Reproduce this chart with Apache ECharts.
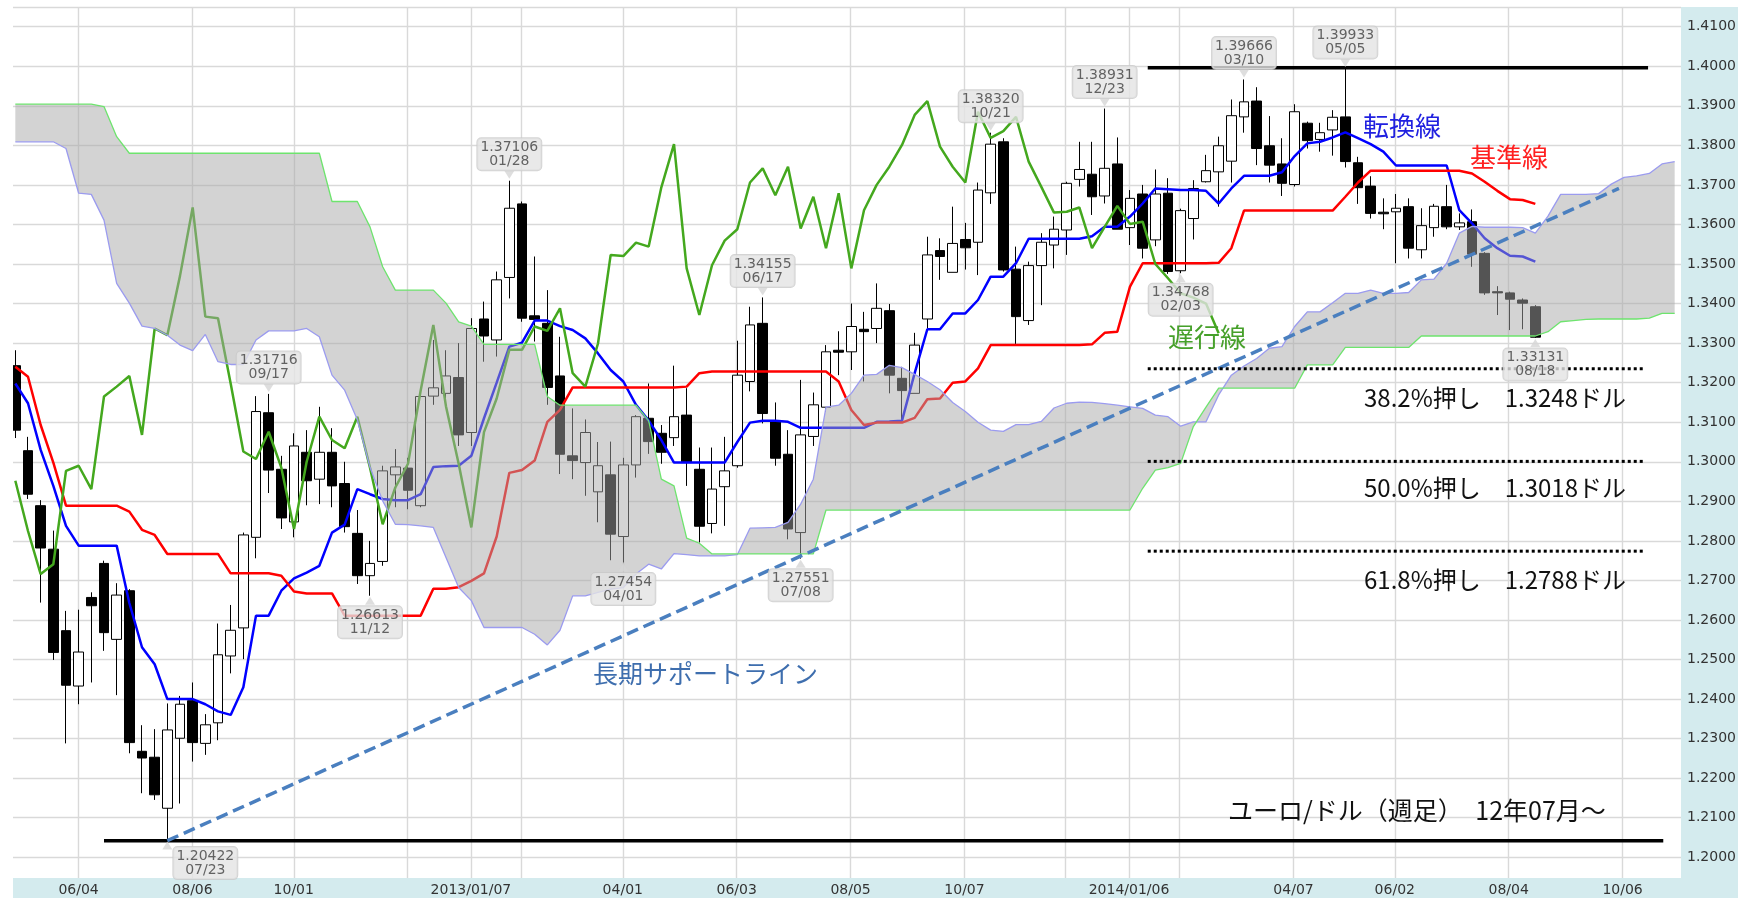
<!DOCTYPE html>
<html>
<head>
<meta charset="utf-8">
<title>ユーロ/ドル 週足 一目均衡表</title>
<script src="https://cdn.jsdelivr.net/npm/echarts/dist/echarts.min.js"></script>
<style>
  html, body { margin: 0; padding: 0; background: #fff; }
  #chart { width: 1749px; height: 898px; }
</style>
</head>
<body>
<div id="chart"></div>
<script>
// 週足: 最初の足は 2012/04/30 の週
const firstWeek = Date.UTC(2012, 3, 30)
const weekCount = 132

const openP = [
  1.3243, 1.3028, 1.2889, 1.2779, 1.2573, 1.2433, 1.2657, 1.2743, 1.2551, 1.2674,
  1.2268, 1.2253, 1.2124, 1.2301, 1.2396, 1.2288, 1.2340, 1.2509, 1.2580, 1.2809,
  1.3124, 1.2981, 1.2848, 1.3024, 1.2956, 1.3024, 1.2945, 1.2819, 1.2712, 1.2748,
  1.2967, 1.2984, 1.2889, 1.3166, 1.3173, 1.3213, 1.3074, 1.3361, 1.3308, 1.3466,
  1.3652, 1.3369, 1.3350, 1.3217, 1.3015, 1.2998, 1.2924, 1.2967, 1.2811, 1.2992,
  1.3110, 1.3072, 1.3061, 1.3118, 1.2981, 1.2844, 1.2937, 1.2990, 1.3203, 1.3350,
  1.3104, 1.3019, 1.2821, 1.3064, 1.3138, 1.3282, 1.3278, 1.3335, 1.3337, 1.3382,
  1.3211, 1.3173, 1.3361, 1.3534, 1.3479, 1.3562, 1.3555, 1.3680, 1.3809, 1.3487,
  1.3357, 1.3496, 1.3548, 1.3586, 1.3714, 1.3727, 1.3672, 1.3753, 1.3592, 1.3677,
  1.3561, 1.3679, 1.3483, 1.3615, 1.3708, 1.3733, 1.3760, 1.3872, 1.3912, 1.3799,
  1.3753, 1.3701, 1.3856, 1.3815, 1.3839, 1.3872, 1.3756, 1.3697, 1.3631, 1.3632,
  1.3645, 1.3536, 1.3592, 1.3645, 1.3594, 1.3607, 1.3527, 1.3430, 1.3427, 1.3409,
  1.3392
]
const closeP = [
  1.3080, 1.2918, 1.2782, 1.2518, 1.2435, 1.2519, 1.2636, 1.2568, 1.2663, 1.2290,
  1.2251, 1.2158, 1.2322, 1.2387, 1.2290, 1.2335, 1.2512, 1.2574, 1.2815, 1.3127,
  1.2979, 1.2858, 1.3040, 1.2952, 1.3024, 1.2939, 1.2836, 1.2712, 1.2743, 1.2977,
  1.2987, 1.2928, 1.3165, 1.3187, 1.3217, 1.3068, 1.3337, 1.3318, 1.3460, 1.3641,
  1.3363, 1.3360, 1.3188, 1.3019, 1.3003, 1.3074, 1.2990, 1.2817, 1.2992, 1.3114,
  1.3051, 1.3024, 1.3114, 1.2998, 1.2837, 1.2931, 1.2977, 1.3219, 1.3346, 1.3122,
  1.3009, 1.2830, 1.3068, 1.3144, 1.3278, 1.3277, 1.3342, 1.3329, 1.3388, 1.3219,
  1.3180, 1.3295, 1.3523, 1.3519, 1.3552, 1.3541, 1.3687, 1.3803, 1.3485, 1.3367,
  1.3496, 1.3555, 1.3588, 1.3704, 1.3739, 1.3670, 1.3742, 1.3588, 1.3666, 1.3540,
  1.3677, 1.3481, 1.3635, 1.3691, 1.3736, 1.3799, 1.3875, 1.3910, 1.3792, 1.3750,
  1.3704, 1.3885, 1.3812, 1.3832, 1.3871, 1.3759, 1.3693, 1.3628, 1.3627, 1.3641,
  1.3540, 1.3597, 1.3646, 1.3594, 1.3604, 1.3525, 1.3427, 1.3427, 1.3411, 1.3401,
  1.3315
]
const highP = [
  1.3282, 1.3063, 1.2903, 1.2826, 1.2623, 1.2626, 1.2670, 1.2750, 1.2693, 1.2678,
  1.2334, 1.2324, 1.2389, 1.2408, 1.2442, 1.2362, 1.2591, 1.2638, 1.2821, 1.3166,
  1.31716, 1.3015, 1.3072, 1.3080, 1.3139, 1.3085, 1.3000, 1.2878, 1.2800, 1.2990,
  1.3032, 1.3010, 1.3173, 1.3308, 1.3282, 1.3300, 1.3363, 1.3405, 1.3481, 1.37106,
  1.3658, 1.3519, 1.3434, 1.3316, 1.3135, 1.3107, 1.3050, 1.3051, 1.3010, 1.3118,
  1.3198, 1.3093, 1.3243, 1.3186, 1.3036, 1.3036, 1.3063, 1.3306, 1.3392, 1.34155,
  1.3150, 1.3080, 1.3207, 1.3175, 1.3295, 1.3330, 1.3400, 1.3379, 1.3451, 1.3399,
  1.3240, 1.3326, 1.3569, 1.3565, 1.3645, 1.3604, 1.3706, 1.38320, 1.3818, 1.3544,
  1.3506, 1.3578, 1.3620, 1.3708, 1.3809, 1.3809, 1.38931, 1.3820, 1.3687, 1.3700,
  1.3739, 1.3717, 1.3640, 1.3712, 1.3776, 1.3822, 1.3916, 1.39666, 1.3947, 1.3874,
  1.3818, 1.3904, 1.3860, 1.3857, 1.3889, 1.39933, 1.3771, 1.3722, 1.3666, 1.3677,
  1.3666, 1.3641, 1.3652, 1.3700, 1.3628, 1.3638, 1.3530, 1.3444, 1.3430, 1.3413,
  1.3396
]
const lowP = [
  1.3060, 1.2906, 1.2644, 1.2499, 1.2288, 1.2387, 1.2442, 1.2522, 1.2410, 1.2263,
  1.2162, 1.2145, 1.20422, 1.2136, 1.2242, 1.2259, 1.2296, 1.2465, 1.2501, 1.2756,
  1.2921, 1.2830, 1.2809, 1.2890, 1.2893, 1.2885, 1.2821, 1.2691, 1.26613, 1.2737,
  1.2885, 1.2880, 1.2885, 1.3144, 1.3140, 1.3040, 1.3040, 1.3253, 1.3266, 1.3413,
  1.3354, 1.3304, 1.3144, 1.2969, 1.2956, 1.2914, 1.2847, 1.2751, 1.27454, 1.2960,
  1.3020, 1.2995, 1.3040, 1.2939, 1.2796, 1.2819, 1.2838, 1.2985, 1.3178, 1.3097,
  1.2990, 1.2804, 1.27551, 1.3040, 1.3127, 1.3219, 1.3232, 1.3203, 1.3300, 1.3173,
  1.3101, 1.3173, 1.3337, 1.3460, 1.3479, 1.3486, 1.3472, 1.3652, 1.3481, 1.3298,
  1.3346, 1.3396, 1.3489, 1.3523, 1.3696, 1.3624, 1.3653, 1.3588, 1.3548, 1.3514,
  1.3545, 1.3475, 1.34768, 1.3562, 1.3706, 1.3645, 1.3706, 1.3832, 1.3750, 1.3706,
  1.3672, 1.3696, 1.3792, 1.3784, 1.3774, 1.3744, 1.3652, 1.3615, 1.3588, 1.3502,
  1.3514, 1.3514, 1.3569, 1.3588, 1.3586, 1.3493, 1.3422, 1.3371, 1.3333, 1.3335,
  1.33131
]

// 転換線
const tenkan = [
  1.3198, 1.3148, 1.3030, 1.2939, 1.2838, 1.2788, 1.2788, 1.2788, 1.2788, 1.2643,
  1.2531, 1.2488, 1.2400, 1.2400, 1.2400, 1.2387, 1.2369, 1.2360, 1.2430, 1.2611,
  1.2611, 1.2674, 1.2705, 1.2720, 1.2737, 1.2821, 1.2841, 1.2931, 1.2918, 1.2906,
  1.2903, 1.2903, 1.2918, 1.2987, 1.2989, 1.2990, 1.3015, 1.3110, 1.3200, 1.3291,
  1.3301, 1.3357, 1.3357, 1.3343, 1.3333, 1.3312, 1.3274, 1.3232, 1.3203, 1.3144,
  1.3104, 1.3055, 1.2998, 1.2998, 1.2998, 1.2998, 1.2998, 1.3050, 1.3099, 1.3104,
  1.3104, 1.3101, 1.3086, 1.3086, 1.3086, 1.3086, 1.3086, 1.3086, 1.3101, 1.3102,
  1.3104, 1.3224, 1.3335, 1.3335, 1.3375, 1.3375, 1.3409, 1.3468, 1.3468, 1.3502,
  1.3564, 1.3564, 1.3564, 1.3564, 1.3564, 1.3570, 1.3594, 1.3594, 1.3620, 1.3653,
  1.3691, 1.3689, 1.3687, 1.3687, 1.3685, 1.3653, 1.3691, 1.3723, 1.3723, 1.3723,
  1.3732, 1.3773, 1.3805, 1.3809, 1.3820, 1.3833, 1.3818, 1.3803, 1.3784, 1.3749,
  1.3749, 1.3749, 1.3749, 1.3749, 1.3636, 1.3603, 1.3565, 1.3540, 1.3521, 1.3519,
  1.3506
]
// 基準線
const kijun = [
  1.3240, 1.3215, 1.3093, 1.2998, 1.2889, 1.2889, 1.2889, 1.2889, 1.2889, 1.2874,
  1.2828, 1.2815, 1.2767, 1.2767, 1.2767, 1.2767, 1.2767, 1.2718, 1.2718, 1.2718,
  1.2718, 1.2712, 1.2672, 1.2667, 1.2667, 1.2667, 1.2611, 1.2611, 1.2611, 1.2611,
  1.2611, 1.2611, 1.2611, 1.2679, 1.2679, 1.2683, 1.2699, 1.2718, 1.2811, 1.2972,
  1.2979, 1.3003, 1.3101, 1.3131, 1.3188, 1.3188, 1.3188, 1.3188, 1.3188, 1.3188,
  1.3188, 1.3188, 1.3188, 1.3190, 1.3224, 1.3228, 1.3228, 1.3228, 1.3228, 1.3228,
  1.3228, 1.3228, 1.3228, 1.3228, 1.3228, 1.3203, 1.3131, 1.3093, 1.3099, 1.3099,
  1.3099, 1.3111, 1.3158, 1.3160, 1.3200, 1.3203, 1.3236, 1.3295, 1.3295, 1.3295,
  1.3295, 1.3295, 1.3295, 1.3295, 1.3295, 1.3297, 1.3326, 1.3329, 1.3443, 1.3502,
  1.3502, 1.3502, 1.3502, 1.3502, 1.3502, 1.3503, 1.3540, 1.3635, 1.3635, 1.3635,
  1.3635, 1.3635, 1.3635, 1.3635, 1.3635, 1.3670, 1.3706, 1.3736, 1.3736, 1.3736,
  1.3736, 1.3736, 1.3736, 1.3736, 1.3736, 1.3729, 1.3708, 1.3685, 1.3664, 1.3662,
  1.3652
]
// 遅行線
const chikou = [
  1.2952, 1.2825, 1.2716, 1.2741, 1.2977, 1.2990, 1.2931, 1.3165, 1.3190, 1.3217,
  1.3068, 1.3337, 1.3320, 1.3470, 1.3643, 1.3367, 1.3363, 1.3198, 1.3026, 1.3007,
  1.3076, 1.2985, 1.2830, 1.3000, 1.3114, 1.3055, 1.3034, 1.3114, 1.2985, 1.2842,
  1.2935, 1.2995, 1.3180, 1.3346, 1.3140, 1.2995, 1.2834, 1.3075, 1.3160, 1.3283,
  1.3283, 1.3342, 1.3331, 1.3388, 1.3224, 1.3190, 1.3299, 1.3523, 1.3520, 1.3554,
  1.3544, 1.3694, 1.3803, 1.3489, 1.3371, 1.3497, 1.3559, 1.3588, 1.3706, 1.3742,
  1.3674, 1.3746, 1.3590, 1.3670, 1.3540, 1.3679, 1.3489, 1.3636, 1.3700, 1.3746,
  1.3801, 1.3877, 1.3912, 1.3797, 1.3746, 1.3706, 1.3885, 1.3819, 1.3836, 1.3872,
  1.3759, 1.3695, 1.3630, 1.3632, 1.3643, 1.3540, 1.3594, 1.3647, 1.3601, 1.3607,
  1.3500, 1.3464, 1.3426, 1.3415, 1.3400, 1.3325
]
// 先行スパン1
const spanA = [
  1.3809, 1.3809, 1.3809, 1.3809, 1.3792, 1.3679, 1.3676, 1.3611, 1.3451, 1.3401,
  1.3343, 1.3337, 1.3320, 1.3295, 1.3281, 1.3322, 1.3253, 1.3246, 1.3246, 1.3308,
  1.3331, 1.3331, 1.3331, 1.3337, 1.3316, 1.3219, 1.3181, 1.3106, 1.2986, 1.2901,
  1.2842, 1.2841, 1.2838, 1.2834, 1.2758, 1.2682, 1.2649, 1.2581, 1.2581, 1.2581,
  1.2581, 1.2564, 1.2537, 1.2574, 1.2661, 1.2661, 1.2670, 1.2678, 1.2682, 1.2716,
  1.2741, 1.2729, 1.2768, 1.2765, 1.2762, 1.2762, 1.2762, 1.2765, 1.2832, 1.2833,
  1.2834, 1.2847, 1.2893, 1.2956, 1.3138, 1.3143, 1.3173, 1.3219, 1.3221, 1.3244,
  1.3238, 1.3221, 1.3203, 1.3182, 1.3150, 1.3127, 1.3100, 1.3080, 1.3077, 1.3094,
  1.3094, 1.3102, 1.3136, 1.3148, 1.3151, 1.3150, 1.3147, 1.3143, 1.3139, 1.3135,
  1.3118, 1.3114, 1.3090, 1.3101, 1.3101, 1.3169, 1.3219, 1.3242, 1.3261, 1.3287,
  1.3291, 1.3342, 1.3379, 1.3379, 1.3402, 1.3426, 1.3426, 1.3434, 1.3426, 1.3426,
  1.3428, 1.3460, 1.3462, 1.3502, 1.3578, 1.3595, 1.3593, 1.3593, 1.3593, 1.3592,
  1.3578, 1.3621, 1.3676, 1.3676, 1.3676, 1.3678, 1.3702, 1.3719, 1.3723, 1.3729,
  1.3753, 1.3759
]
// 先行スパン2
const spanB = [
  1.3904, 1.3904, 1.3904, 1.3904, 1.3904, 1.3904, 1.3904, 1.3898, 1.3822, 1.3780,
  1.3780, 1.3780, 1.3780, 1.3780, 1.3780, 1.3780, 1.3780, 1.3780, 1.3780, 1.3780,
  1.3780, 1.3780, 1.3780, 1.3780, 1.3780, 1.3658, 1.3658, 1.3658, 1.3594, 1.3493,
  1.3434, 1.3434, 1.3434, 1.3434, 1.3401, 1.3354, 1.3343, 1.3297, 1.3297, 1.3297,
  1.3297, 1.3297, 1.3165, 1.3143, 1.3143, 1.3143, 1.3143, 1.3143, 1.3143, 1.3143,
  1.3104, 1.2956, 1.2939, 1.2807, 1.2794, 1.2767, 1.2767, 1.2767, 1.2767, 1.2767,
  1.2767, 1.2767, 1.2767, 1.2767, 1.2878, 1.2878, 1.2878, 1.2878, 1.2878, 1.2878,
  1.2878, 1.2878, 1.2878, 1.2878, 1.2878, 1.2878, 1.2878, 1.2878, 1.2878, 1.2878,
  1.2878, 1.2878, 1.2878, 1.2878, 1.2878, 1.2878, 1.2878, 1.2878, 1.2878, 1.2933,
  1.2979, 1.2985, 1.2996, 1.3089, 1.3138, 1.3186, 1.3186, 1.3186, 1.3186, 1.3186,
  1.3186, 1.3186, 1.3245, 1.3245, 1.3245, 1.3289, 1.3289, 1.3289, 1.3289, 1.3289,
  1.3289, 1.3318, 1.3318, 1.3318, 1.3318, 1.3318, 1.3318, 1.3318, 1.3318, 1.3318,
  1.3318, 1.3329, 1.3354, 1.3357, 1.3360, 1.3361, 1.3361, 1.3361, 1.3361, 1.3363,
  1.3375, 1.3375
]

// 高値・安値の吹き出し
const calloutWeek = [20, 28, 12, 39, 48, 59, 62, 77, 86, 92, 97, 105, 120]
const calloutPrice = [1.31716, 1.26613, 1.20422, 1.37106, 1.27454, 1.34155, 1.27551,
  1.38320, 1.38931, 1.34768, 1.39666, 1.39933, 1.33131]
const calloutSide = ['up', 'down', 'down', 'up', 'down', 'up', 'down', 'up', 'up', 'down', 'up', 'up', 'down']

// 補助線 (週の位置, 価格)
const resistanceLevel = 1.3996
const resistanceWeeks = [89.4, 128.9]
const supportLevel = 1.2042
const supportWeeks = [7.0, 130.1]
const trendStart = [12, 1.2042]
const trendEnd = [126.6, 1.3691]
const fibLevels = [1.3235, 1.3001, 1.2774]
const fibWeeks = [89.4, 128.7]
const fibTexts = ['38.2%押し　1.3248ドル', '50.0%押し　1.3018ドル', '61.8%押し　1.2788ドル']

// 目盛り
const gridWeeks = [5, 14, 22, 31, 36, 40, 48, 57, 66, 75, 83, 88, 92, 101, 109, 118, 127]
const labelWeeks = [5, 14, 22, 36, 48, 57, 66, 75, 88, 101, 109, 118, 127]
const yearLabelWeeks = [36, 88]

const pad = n => (n < 10 ? '0' : '') + n
const weeks = []
for (let i = 0; i < weekCount; i++) {
  const d = new Date(firstWeek + i * 7 * 86400000)
  weeks.push(d.getUTCFullYear() + '/' + pad(d.getUTCMonth() + 1) + '/' + pad(d.getUTCDate()))
}

const candles = openP.map((o, i) => [o, closeP[i], lowP[i], highP[i]])

const labelShift = { 12: [38, -4] }
const calloutData = calloutWeek.map((w, k) => ({
  value: [w, calloutPrice[k]],
  label: {
    position: calloutSide[k] === 'up' ? 'top' : 'bottom',
    offset: labelShift[w] || [0, 0]
  }
}))
const pointerData = calloutWeek.map((w, k) => ({
  value: [w, calloutPrice[k]],
  symbolRotate: calloutSide[k] === 'up' ? 180 : 0,
  symbolOffset: calloutSide[k] === 'up' ? [0, -6] : [0, 5]
}))

const levelLine = (name, weeksRange, level, style) => ({
  type: 'line', name, xAxisIndex: 2, yAxisIndex: 0, z: 6, silent: true,
  symbol: 'none', data: [[weeksRange[0], level], [weeksRange[1], level]],
  lineStyle: style
})

const jpFont = '"Noto Sans CJK JP", sans-serif'
const textItem = (text, x, y, size, color) => ({
  type: 'text', x, y, z: 50, silent: true,
  style: { text, fontSize: size, fontFamily: jpFont, fill: color, verticalAlign: 'middle', align: 'left' }
})

const chart = echarts.init(document.getElementById('chart'))

const option = {
  animation: false,
  backgroundColor: '#ffffff',
  textStyle: { fontFamily: 'DejaVu Sans' },
  grid: [
    // データ描画用
    { left: 9, right: 68, top: 26.7, bottom: 40.7, containLabel: false, outerBoundsMode: 'none' },
    // 縦線と日付ラベル用
    { left: 15.33, right: 75.8, top: 7.3, bottom: 20, containLabel: false, outerBoundsMode: 'none' }
  ],
  xAxis: [
    { type: 'category', gridIndex: 0, data: weeks, boundaryGap: true, show: false },
    {
      type: 'category', gridIndex: 1, data: weeks, boundaryGap: false,
      axisLine: { show: false }, axisTick: { show: false },
      axisLabel: {
        interval: (idx) => labelWeeks.includes(idx),
        formatter: (v, idx) => (yearLabelWeeks.includes(idx) ? v : v.slice(5)),
        fontFamily: 'DejaVu Sans', fontSize: 14, color: '#333', margin: 5
      },
      splitLine: {
        show: true,
        interval: (idx) => gridWeeks.includes(idx),
        lineStyle: { color: '#d9d9d9', width: 1.4 }
      }
    },
    { type: 'value', gridIndex: 0, min: -0.5, max: weekCount - 0.5, show: false, position: 'top' }
  ],
  yAxis: [
    {
      type: 'value', gridIndex: 0, position: 'right', min: 1.2, max: 1.41, interval: 0.01,
      axisLine: { show: false }, axisTick: { show: false },
      axisLabel: { formatter: v => v.toFixed(4), fontFamily: 'DejaVu Sans', fontSize: 14, color: '#333', margin: 6 },
      splitLine: { show: true, lineStyle: { color: '#d9d9d9', width: 1.4 } }
    },
    { type: 'value', gridIndex: 1, min: 0, max: 1, show: false }
  ],
  series: [
    {
      type: 'candlestick', name: 'ユーロ/ドル', xAxisIndex: 0, yAxisIndex: 0, z: 2,
      data: candles, barWidth: 10,
      itemStyle: {
        color: '#ffffff', color0: '#000000',
        borderColor: '#000000', borderColor0: '#000000', borderColorDoji: '#000000',
        borderWidth: 1
      }
    },
    { type: 'line', name: '転換線', data: tenkan, symbol: 'none', z: 3, lineStyle: { color: '#0000ff', width: 2.5 } },
    { type: 'line', name: '基準線', data: kijun, symbol: 'none', z: 3, lineStyle: { color: '#ff0000', width: 2.5 } },
    { type: 'line', name: '遅行線', data: chikou, symbol: 'none', z: 3, lineStyle: { color: '#44a81e', width: 2.5 } },
    {
      // 雲 (先行スパン1と2の間)
      type: 'custom', name: '雲', xAxisIndex: 0, yAxisIndex: 0, z: 4, silent: true,
      data: [[0, spanA[0]]],
      renderItem: function (params, api) {
        const pts = []
        for (let i = 0; i < spanA.length; i++) pts.push(api.coord([i, spanA[i]]))
        for (let i = spanB.length - 1; i >= 0; i--) pts.push(api.coord([i, spanB[i]]))
        return { type: 'polygon', shape: { points: pts }, style: { fill: 'rgba(168,168,168,0.5)' } }
      }
    },
    { type: 'line', name: '先行スパン1', data: spanA, symbol: 'none', z: 5, lineStyle: { color: '#9b9bef', width: 1.3 } },
    { type: 'line', name: '先行スパン2', data: spanB, symbol: 'none', z: 5, lineStyle: { color: '#6ee46e', width: 1.3 } },
    levelLine('抵抗線', resistanceWeeks, resistanceLevel, { color: '#000', width: 3.5 }),
    levelLine('支持線', supportWeeks, supportLevel, { color: '#000', width: 3.5 }),
    {
      type: 'line', name: '長期サポートライン', xAxisIndex: 2, yAxisIndex: 0, z: 6, silent: true,
      symbol: 'none', data: [trendStart, trendEnd],
      lineStyle: { color: '#4a7fbf', width: 3.5, type: [12, 6] }
    },
    ...fibLevels.map((lv, k) => levelLine('fib' + k, fibWeeks, lv, { color: '#000', width: 3, type: [3, 3] })),
    {
      type: 'scatter', name: 'pointer', xAxisIndex: 0, yAxisIndex: 0, z: 7, silent: true,
      symbol: 'triangle', symbolSize: [10, 8], data: pointerData,
      itemStyle: { color: '#d6d6d6' }
    },
    {
      type: 'scatter', name: 'callout', xAxisIndex: 0, yAxisIndex: 0, z: 8, silent: true,
      symbol: 'circle', symbolSize: 1, data: calloutData,
      itemStyle: { color: 'rgba(0,0,0,0)' },
      label: {
        show: true, distance: 10,
        formatter: p => p.value[1].toFixed(5) + '\n' + weeks[p.value[0]].slice(5),
        fontFamily: 'DejaVu Sans', fontSize: 14, lineHeight: 14, color: '#404040',
        backgroundColor: '#e3e3e3', borderColor: '#c9c9c9', borderWidth: 1, borderRadius: 4,
        padding: [2, 3], align: 'center'
      }
    }
  ],
  graphic: [
    { type: 'rect', z: -1, silent: true, shape: { x: 1681, y: 7, width: 57, height: 891 }, style: { fill: '#d4ebee' } },
    { type: 'rect', z: -1, silent: true, shape: { x: 13, y: 878, width: 1725, height: 20 }, style: { fill: '#d4ebee' } },
    { type: 'line', z: -1, silent: true, shape: { x1: 13, y1: 7.5, x2: 1681, y2: 7.5 }, style: { stroke: '#d9d9d9', lineWidth: 1.4 } },
    { type: 'rect', z: 100, silent: true, shape: { x: 0, y: 0, width: 13, height: 898 }, style: { fill: '#ffffff' } },
    textItem('転換線', 1363, 126, 26, '#2020e0'),
    textItem('基準線', 1470, 157, 26, '#ff2020'),
    textItem('遅行線', 1168, 337, 26, '#46a02a'),
    textItem('長期サポートライン', 593, 673, 25, '#3e6eae'),
    textItem(fibTexts[0], 1364, 398, 24, '#111'),
    textItem(fibTexts[1], 1364, 488, 24, '#111'),
    textItem(fibTexts[2], 1364, 580, 24, '#111'),
    textItem('ユーロ/ドル（週足）　12年07月～', 1228, 810, 25, '#111')
  ]
}

chart.setOption(option)
</script>
</body>
</html>
